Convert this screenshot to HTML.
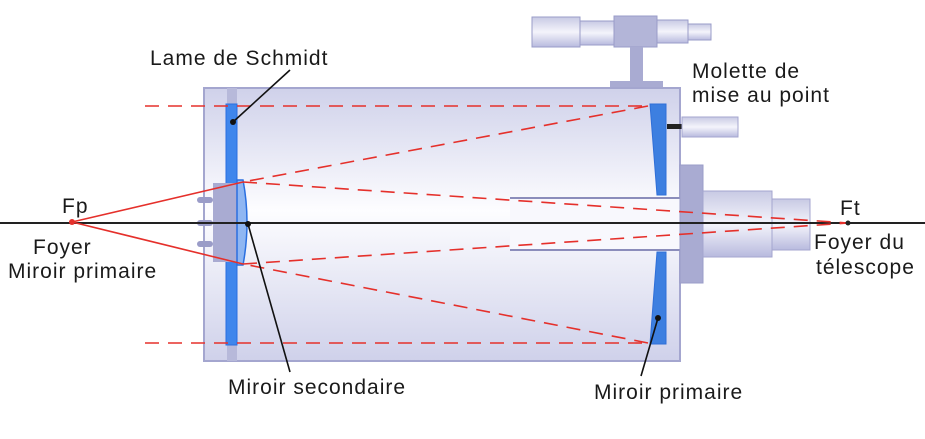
<!DOCTYPE html>
<html><head><meta charset="utf-8"><style>
body{margin:0;background:#fff;}
svg text{font-family:"Liberation Sans","DejaVu Sans",sans-serif;font-size:21px;letter-spacing:1px;fill:#1a1a1a;}
</style></head><body>
<svg width="925" height="434" viewBox="0 0 925 434" xmlns="http://www.w3.org/2000/svg">
<defs>
<linearGradient id="tube" x1="0" y1="0" x2="0" y2="1">
<stop offset="0" stop-color="#cfd1ea"/><stop offset="0.45" stop-color="#fdfdff"/><stop offset="1" stop-color="#cfd1ea"/></linearGradient>
<linearGradient id="cyl" x1="0" y1="0" x2="0" y2="1">
<stop offset="0" stop-color="#c8cae4"/><stop offset="0.5" stop-color="#f4f4fb"/><stop offset="1" stop-color="#b8bade"/></linearGradient>
</defs>
<rect x="532" y="17" width="48" height="30" fill="url(#cyl)" stroke="#9a9cc8"/>
<rect x="580" y="21" width="34" height="24" fill="url(#cyl)" stroke="#9a9cc8"/>
<rect x="614" y="16" width="43" height="31" fill="#b3b5d8" stroke="#9a9cc8"/>
<rect x="657" y="20" width="31" height="23" fill="url(#cyl)" stroke="#9a9cc8"/>
<rect x="688" y="24" width="23" height="16" fill="url(#cyl)" stroke="#9a9cc8"/>
<rect x="630" y="47" width="13" height="35" fill="#a9abd2"/>
<rect x="610" y="81" width="53" height="8" fill="#a9abd2"/>
<rect x="204" y="88" width="476" height="273" fill="url(#tube)" stroke="#a4a6cf" stroke-width="2"/>
<rect x="510" y="198" width="170" height="52" fill="#f8f8fd"/>
<line x1="510" y1="198" x2="680" y2="198" stroke="#8b8dbb" stroke-width="2"/>
<line x1="510" y1="250" x2="680" y2="250" stroke="#8b8dbb" stroke-width="2"/>
<rect x="667" y="124" width="15" height="5" fill="#222"/>
<rect x="682" y="117" width="56" height="20" fill="url(#cyl)" stroke="#a4a6cf"/>
<rect x="680" y="165" width="23" height="118" fill="#a9abd2" stroke="#9a9cc8"/>
<rect x="703" y="191" width="69" height="66" fill="url(#cyl)" stroke="#a4a6cf"/>
<rect x="772" y="199" width="38" height="51" fill="url(#cyl)" stroke="#a4a6cf"/>
<path d="M650 104 L666 104 L666 195 L657 195 Z" fill="#3d7fe0" stroke="#2f6fd8"/>
<path d="M657 252 L666 252 L666 344 L650 344 Z" fill="#3d7fe0" stroke="#2f6fd8"/>
<rect x="227" y="88" width="10" height="273" fill="#b7b9da"/>
<rect x="226" y="104" width="11" height="241" fill="#3f86ec" stroke="#2a6fe0"/>
<rect x="213" y="183" width="24" height="79" fill="#a9abd2"/>
<rect x="197" y="197" width="16" height="6" rx="3" fill="#9a9cc8"/>
<rect x="197" y="220" width="16" height="6" rx="3" fill="#9a9cc8"/>
<rect x="197" y="241" width="16" height="6" rx="3" fill="#9a9cc8"/>
<path d="M237 180 L243 180 Q251 222 243 265 L237 265 Z" fill="#8fb6f2" stroke="#2a6fe0" stroke-width="1.5"/>
<line x1="0" y1="223" x2="925" y2="223" stroke="#222" stroke-width="2"/>
<g stroke="#e5302b" stroke-width="1.6" fill="none">
<line x1="72" y1="222" x2="243" y2="182"/>
<line x1="72" y1="222" x2="243" y2="264"/>
<g stroke-dasharray="14,9">
<line x1="145" y1="106" x2="648" y2="106"/>
<line x1="145" y1="343" x2="648" y2="343"/>
<line x1="648" y1="106" x2="243" y2="182"/>
<line x1="648" y1="343" x2="243" y2="264"/>
<line x1="243" y1="182" x2="848" y2="223"/>
<line x1="243" y1="264" x2="848" y2="223"/>
</g></g>
<circle cx="72" cy="222" r="3" fill="#e5302b"/>
<circle cx="848" cy="223" r="2.5" fill="#222"/>
<g stroke="#111" stroke-width="1.6">
<line x1="290" y1="70" x2="233" y2="122"/>
<line x1="248" y1="224" x2="290" y2="372"/>
<line x1="658" y1="318" x2="641" y2="376"/>
</g>
<circle cx="233" cy="122" r="3" fill="#111"/>
<circle cx="248" cy="224" r="3" fill="#111"/>
<circle cx="658" cy="318" r="3" fill="#111"/>
<text x="150" y="65">Lame de Schmidt</text>
<text x="692" y="78">Molette de</text>
<text x="692" y="102">mise au point</text>
<text x="62" y="213">Fp</text>
<text x="33" y="254">Foyer</text>
<text x="8" y="278">Miroir primaire</text>
<text x="840" y="215">Ft</text>
<text x="814" y="249">Foyer du</text>
<text x="816" y="274">télescope</text>
<text x="228" y="394">Miroir secondaire</text>
<text x="594" y="399">Miroir primaire</text>
</svg>
</body></html>
